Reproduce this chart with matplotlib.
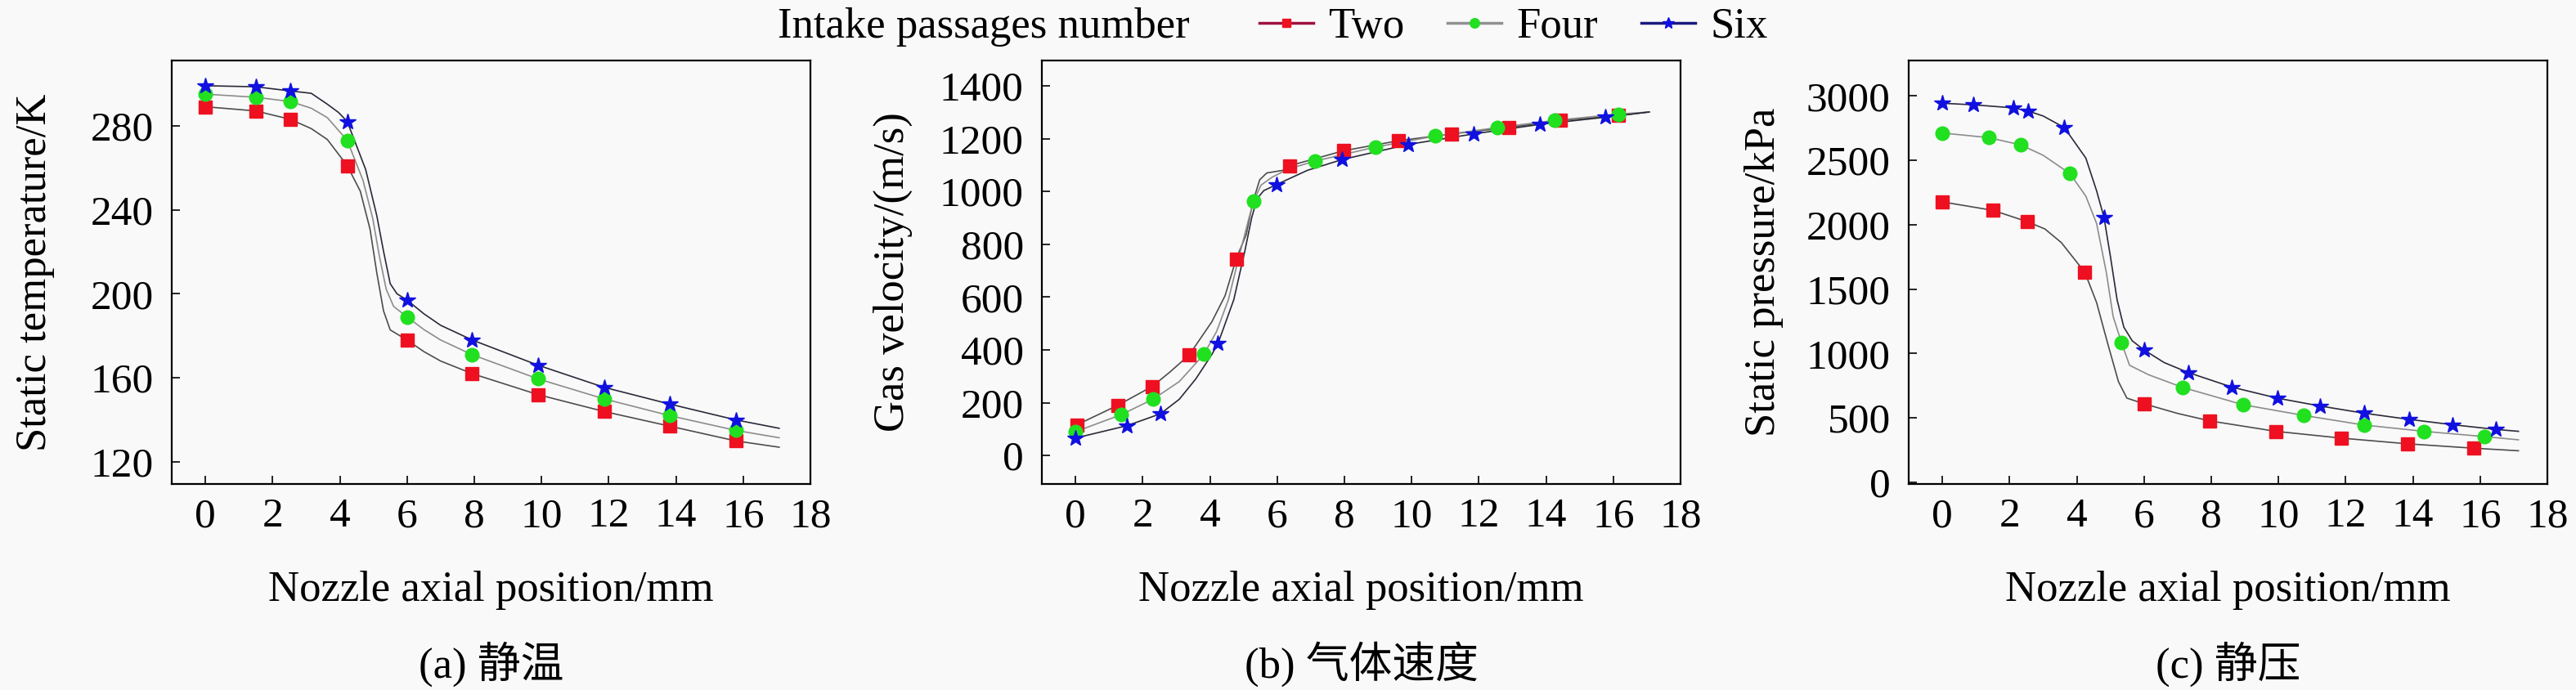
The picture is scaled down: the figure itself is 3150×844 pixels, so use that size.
import matplotlib
matplotlib.use("Agg")
import matplotlib.pyplot as plt
from matplotlib.lines import Line2D

plt.rcParams['font.family'] = ['Liberation Serif', 'Noto Sans CJK SC']

# (a) static temperature, K
ta_mx   = [0, 1.5, 2.53, 4.22, 6.0, 7.94, 9.9, 11.86, 13.82, 15.78]
ta_two  = [289, 287, 283, 261, 178, 162, 152, 144, 137, 130]
ta_four = [295, 293.5, 291.5, 273, 189, 171, 159.5, 150, 142, 135]
ta_six  = [299, 298.5, 296.5, 282, 197, 178, 166, 155.5, 147.5, 140]

ta_two_lx  = [0, 1.5, 2.53, 3.15, 3.63, 4.22, 4.61, 4.9, 5.1, 5.3, 5.5, 6.0, 6.5, 7.0, 7.94, 9.9, 11.86, 13.82, 15.78, 17.07]
ta_two_ly  = [289, 287, 283, 278.6, 273.4, 261, 248.8, 230.7, 210, 191.9, 182.8, 178, 172.5, 168, 162, 152, 144, 137, 130, 127]
ta_four_lx = [0, 1.5, 2.53, 3.15, 3.63, 4.22, 4.69, 4.98, 5.18, 5.38, 5.6, 6.0, 6.5, 7.0, 7.94, 9.9, 11.86, 13.82, 15.78, 17.07]
ta_four_ly = [295, 293.5, 291.5, 288.3, 283.8, 273, 254, 235.8, 217.7, 202.2, 194, 189, 183, 178, 171, 159.5, 150, 142, 135, 131.5]
ta_six_lx  = [0, 1.5, 2.53, 3.15, 3.63, 3.96, 4.22, 4.77, 5.1, 5.3, 5.5, 5.7, 6.0, 6.5, 7.0, 7.94, 9.9, 11.86, 13.82, 15.78, 17.07]
ta_six_ly  = [299, 298.5, 296.5, 295.4, 290.2, 286.3, 282, 259.1, 237.2, 220.3, 204.8, 200, 197, 190.5, 185, 178, 166, 155.5, 147.5, 140, 136]

# (b) gas velocity, m/s
vb_two_mx  = [0.04, 1.26, 2.29, 3.38, 4.78, 6.36, 7.97, 9.6, 11.2, 12.88, 14.43, 16.14]
vb_two     = [116, 190, 262, 380, 744, 1097, 1154, 1192, 1218, 1242, 1269, 1287]
vb_four_mx = [0, 1.37, 2.32, 3.82, 5.3, 7.13, 8.92, 10.71, 12.55, 14.26, 16.14]
vb_four    = [90, 155, 214, 383, 963, 1115, 1168, 1210, 1242, 1269, 1293]
vb_six_mx  = [0, 1.54, 2.53, 4.24, 5.98, 7.94, 9.9, 11.85, 13.81, 15.76]
vb_six     = [66, 113, 158, 424, 1026, 1121, 1178, 1218, 1254, 1281]

vb_two_lx  = [0.04, 1.26, 2.29, 2.8, 3.38, 4.06, 4.45, 4.78, 5.08, 5.28, 5.48, 5.69, 6.17, 6.36, 7.97, 9.6, 11.2, 12.88, 14.43, 16.14, 17.07]
vb_two_ly  = [116, 190, 262, 315, 380, 507, 605, 744, 837, 961, 1044, 1070, 1080, 1097, 1154, 1192, 1218, 1242, 1269, 1287, 1301]
vb_four_lx = [0, 1.37, 2.32, 3.09, 3.82, 4.2, 4.55, 4.87, 5.16, 5.3, 5.52, 5.85, 6.33, 7.13, 8.92, 10.71, 12.55, 14.26, 16.14, 17.07]
vb_four_ly = [90, 155, 214, 280, 383, 470, 590, 755, 899, 963, 1024, 1054, 1085, 1115, 1168, 1210, 1242, 1269, 1293, 1301]
vb_six_lx  = [0, 1.54, 2.53, 3.09, 3.58, 4.06, 4.24, 4.71, 5.04, 5.24, 5.4, 5.6, 5.98, 6.9, 7.94, 9.9, 11.85, 13.81, 15.76, 17.07]
vb_six_ly  = [66, 113, 158, 213, 290, 383, 424, 590, 775, 899, 972, 1003, 1026, 1080, 1121, 1178, 1218, 1254, 1281, 1301]

# (c) static pressure, kPa
pc_two_mx  = [0, 1.51, 2.52, 4.24, 6.0, 7.96, 9.92, 11.88, 13.84, 15.8]
pc_two     = [2178, 2112, 2025, 1631, 610, 477, 396, 343, 299, 265]
pc_four_mx = [0, 1.38, 2.33, 3.8, 5.33, 7.15, 8.94, 10.74, 12.54, 14.33, 16.13]
pc_four    = [2713, 2677, 2621, 2397, 1085, 737, 603, 520, 445, 396, 355]
pc_six_mx  = [0, 0.92, 2.12, 2.56, 3.63, 4.81, 6.0, 7.31, 8.62, 9.96, 11.23, 12.54, 13.88, 15.19, 16.46]
pc_six     = [2944, 2932, 2908, 2883, 2755, 2057, 1028, 853, 739, 654, 593, 537, 489, 447, 411]

pc_two_lx  = [0, 1.51, 2.52, 3.05, 3.54, 4.24, 4.59, 4.92, 5.24, 5.49, 6.0, 7.0, 7.96, 9.92, 11.88, 13.84, 15.8, 17.14]
pc_two_ly  = [2178, 2112, 2025, 1968, 1862, 1631, 1396, 1078, 782, 654, 610, 535, 477, 396, 343, 299, 265, 245]
pc_four_lx = [0, 1.38, 2.33, 3.0, 3.8, 4.27, 4.59, 4.88, 5.08, 5.33, 5.57, 6.14, 7.15, 8.94, 10.74, 12.54, 14.33, 16.13, 17.14]
pc_four_ly = [2713, 2677, 2621, 2540, 2397, 2222, 2010, 1629, 1290, 1085, 909, 835, 737, 603, 520, 445, 396, 355, 330]
pc_six_lx  = [0, 0.92, 2.12, 2.56, 3.0, 3.63, 4.27, 4.59, 4.81, 5.0, 5.2, 5.4, 5.65, 6.0, 6.6, 7.31, 8.62, 9.96, 11.23, 12.54, 13.88, 15.19, 16.46, 17.14]
pc_six_ly  = [2944, 2932, 2908, 2883, 2845, 2755, 2518, 2264, 2057, 1756, 1417, 1205, 1099, 1028, 930, 853, 739, 654, 593, 537, 489, 447, 411, 396]

names    = ['Two', 'Four', 'Six']
mcolors  = ['#ee1020', '#20e020', '#1010e0']
lcolors  = ['#4d4d4d', '#8c8c8c', '#2a2a3a']
hcolors  = ['#a01040', '#909090', '#1a1a80']
markers  = ['s', 'o', '*']
msizes   = [11, 12, 15]

xticks = list(range(0, 19, 2))

panels = [
    dict(left=210, ylim=(109.5, 311), yticks=range(120, 281, 40),
         ylabel='Static temperature/K', caption='(a) 静温',
         marks=[(ta_mx, ta_two), (ta_mx, ta_four), (ta_mx, ta_six)],
         lines=[(ta_two_lx, ta_two_ly), (ta_four_lx, ta_four_ly), (ta_six_lx, ta_six_ly)],
         ylx=43),
    dict(left=1274, ylim=(-108, 1496), yticks=range(0, 1401, 200),
         ylabel='Gas velocity/(m/s)', caption='(b) 气体速度',
         marks=[(vb_two_mx, vb_two), (vb_four_mx, vb_four), (vb_six_mx, vb_six)],
         lines=[(vb_two_lx, vb_two_ly), (vb_four_lx, vb_four_ly), (vb_six_lx, vb_six_ly)],
         ylx=1092),
    dict(left=2334, ylim=(-13, 3276), yticks=range(0, 3001, 500),
         ylabel='Static pressure/kPa', caption='(c) 静压',
         marks=[(pc_two_mx, pc_two), (pc_four_mx, pc_four), (pc_six_mx, pc_six)],
         lines=[(pc_two_lx, pc_two_ly), (pc_four_lx, pc_four_ly), (pc_six_lx, pc_six_ly)],
         ylx=2157),
]

W, H = 3150, 844
bg = '#f9f9f9'
fig = plt.figure(figsize=(W / 100, H / 100), dpi=100, facecolor=bg)

for p in panels:
    ax = fig.add_axes([p['left'] / W, 1 - 592 / H, 781 / W, 518 / H], facecolor=bg)
    for i in range(3):
        lx, ly = p['lines'][i]
        ax.plot(lx, ly, color=lcolors[i], lw=1.2, zorder=2)
        mx, my = p['marks'][i]
        ax.plot(mx, my, ls='none', marker=markers[i], ms=msizes[i],
                color=mcolors[i], mec=mcolors[i], zorder=3)
    ax.set_xlim(-1, 18)
    ax.set_ylim(*p['ylim'])
    ax.set_xticks(xticks)
    ax.set_yticks(list(p['yticks']))
    ax.tick_params(direction='in', length=7, width=1.2, labelsize=37,
                   top=False, right=False)
    ax.tick_params(axis='x', pad=12)
    ax.tick_params(axis='y', pad=16)
    for s in ax.spines.values():
        s.set_linewidth(1.6)
    cx = (p['left'] + 781 / 2) / W
    fig.text(p['ylx'] / W, 1 - 333 / H, p['ylabel'], rotation=90,
             ha='center', va='center', fontsize=38)
    fig.text(cx, 1 - 722 / H, 'Nozzle axial position/mm', ha='center', va='center', fontsize=38)
    fig.text(cx, 1 - 812 / H, p['caption'], ha='center', va='center', fontsize=38)

fig.text(951 / W, 1 - 33 / H, 'Intake passages number', ha='left', va='center', fontsize=38)
handles = [Line2D([], [], color=hcolors[i], lw=2.5, marker=markers[i],
                  ms=msizes[i] * 0.7, mfc=mcolors[i], mec=mcolors[i]) for i in range(3)]
fig.legend(handles, names, loc='center left', bbox_to_anchor=(1540 / W, 1 - 33 / H),
           ncol=3, frameon=False, fontsize=38, handlelength=1.25, handletextpad=0.35,
           columnspacing=1.0, borderpad=0, borderaxespad=0)

fig.savefig('out.png', dpi=100, facecolor=bg)
